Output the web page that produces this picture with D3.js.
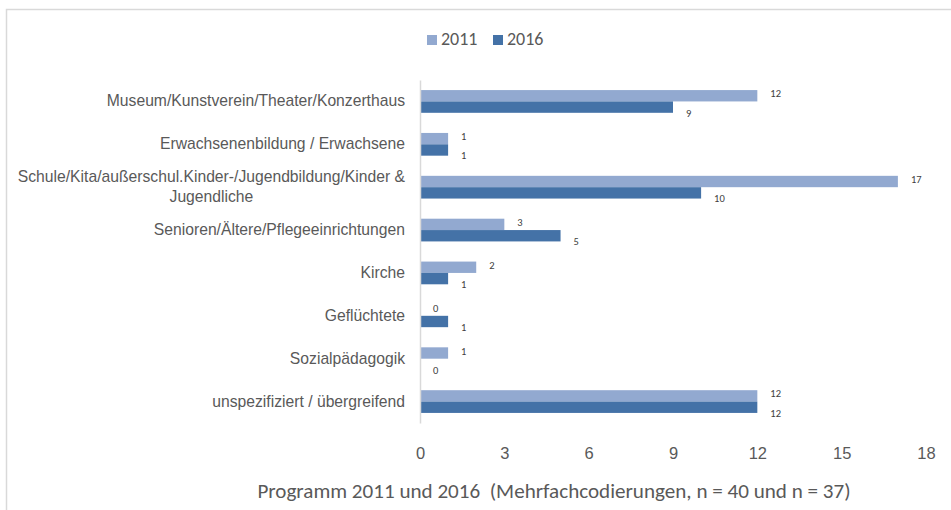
<!DOCTYPE html>
<html>
<head>
<meta charset="utf-8">
<script src="https://cdn.jsdelivr.net/npm/d3@7"></script>
<style>
  html, body { margin: 0; padding: 0; background: #fff; }
  svg { display: block; font-family: Carlito, Calibri, Lato, "Liberation Sans", sans-serif; }
</style>
</head>
<body>
<svg id="chart" width="951" height="510"></svg>
<script>
// Program categories and counts per year
const categories = [
  "Museum/Kunstverein/Theater/Konzerthaus",
  "Erwachsenenbildung / Erwachsene",
  "Schule/Kita/außerschul.Kinder-/Jugendbildung/Kinder & Jugendliche",
  "Senioren/Ältere/Pflegeeinrichtungen",
  "Kirche",
  "Geflüchtete",
  "Sozialpädagogik",
  "unspezifiziert / übergreifend"
];
const seriesNames = ["2011", "2016"];
const values2011 = [12, 1, 17, 3, 2, 0, 1, 12];
const values2016 = [9, 1, 10, 5, 1, 1, 0, 12];
const tickValues = [0, 3, 6, 9, 12, 15, 18];
const axisTitle = "Programm 2011 und 2016  (Mehrfachcodierungen, n = 40 und n = 37)";

const colors = { "2011": "#92a9d0", "2016": "#4472a7" };
const textColor = "#595959";

const svg = d3.select("#chart");

// outer frame
svg.append("rect")
  .attr("x", 6.5).attr("y", 9.5)
  .attr("width", 1000).attr("height", 600)
  .attr("fill", "#fff")
  .attr("stroke", "#d9d9d9")
  .attr("stroke-width", 1.5);

const x = d3.scaleLinear().domain([0, 18]).range([420, 926]);
const y = d3.scaleBand().domain(categories).range([80, 423])
  .paddingInner(0.47).paddingOuter(0.235);
const sub = d3.scaleBand().domain(seriesNames).range([0, y.bandwidth()]);

const rows = categories.map((c, i) => ({
  category: c,
  values: [
    { series: "2011", value: values2011[i] },
    { series: "2016", value: values2016[i] }
  ]
}));

// bars
const groups = svg.append("g").selectAll("g")
  .data(rows).join("g")
  .attr("transform", d => `translate(0,${y(d.category)})`);

groups.selectAll("rect")
  .data(d => d.values).join("rect")
  .attr("x", x(0))
  .attr("y", d => sub(d.series))
  .attr("width", d => x(d.value) - x(0))
  .attr("height", sub.bandwidth())
  .attr("fill", d => colors[d.series]);

// value labels
groups.selectAll("text")
  .data(d => d.values).join("text")
  .attr("x", d => x(d.value) + 13)
  .attr("y", d => sub(d.series) + sub.bandwidth() / 2 + (d.series === "2011" ? -1 : 7))
  .attr("dominant-baseline", "middle")
  .attr("font-size", 10.5)
  .attr("fill", "#404040")
  .text(d => d.value);

// category axis
const yAxis = svg.append("g")
  .attr("transform", `translate(${x(0)},0)`)
  .call(d3.axisLeft(y).tickSize(0).tickSizeOuter(0).tickPadding(15));
yAxis.select(".domain").attr("stroke", "#d9d9d9").attr("stroke-width", 1.5);
yAxis.selectAll(".tick text")
  .attr("font-size", 15.7)
  .attr("font-family", null)
  .attr("fill", textColor)
  .each(function () { wrap(d3.select(this), 395); });

function wrap(text, maxWidth) {
  const words = text.text().split(" ");
  text.text(null);
  const lines = [];
  let line = [];
  const probe = text.append("tspan");
  for (const w of words) {
    line.push(w);
    probe.text(line.join(" "));
    if (probe.node().getComputedTextLength() > maxWidth && line.length > 1) {
      line.pop();
      lines.push(line.join(" "));
      line = [w];
    }
  }
  lines.push(line.join(" "));
  probe.remove();
  if (lines.length === 1) { text.text(lines[0]); return; }
  // multi-line labels: lines centered within the right-aligned block
  const xRight = +text.attr("x");
  const tmp = text.append("tspan");
  let widest = 0;
  lines.forEach(l => { tmp.text(l); widest = Math.max(widest, tmp.node().getComputedTextLength()); });
  tmp.remove();
  const lh = 20;
  const cx = xRight - widest / 2;
  text.attr("text-anchor", "middle").attr("dy", null);
  lines.forEach((l, i) => {
    text.append("tspan")
      .attr("x", cx)
      .attr("dy", i === 0 ? (-(lines.length - 1) * lh / 2 + 5) + "px" : lh + "px")
      .text(l);
  });
}

// value axis
const xAxis = svg.append("g")
  .attr("transform", "translate(0,438)")
  .call(d3.axisBottom(x).tickValues(tickValues).tickSize(0).tickPadding(9));
xAxis.select(".domain").remove();
xAxis.selectAll(".tick text")
  .attr("font-size", 16.5)
  .attr("font-family", null)
  .attr("fill", textColor);

// axis title
svg.append("text")
  .attr("x", 554).attr("y", 498)
  .attr("text-anchor", "middle")
  .attr("font-size", 21.1)
  .attr("fill", textColor)
  .attr("xml:space", "preserve")
  .style("white-space", "pre")
  .text(axisTitle);

// legend
const legend = svg.append("g").attr("transform", "translate(427,35)");
const items = legend.selectAll("g").data(seriesNames).join("g")
  .attr("transform", (d, i) => `translate(${i * 66},0)`);
items.append("rect")
  .attr("width", 10).attr("height", 10)
  .attr("fill", d => colors[d]);
items.append("text")
  .attr("x", 14).attr("y", 6)
  .attr("dominant-baseline", "middle")
  .attr("font-size", 18)
  .attr("fill", textColor)
  .text(d => d);
</script>
</body>
</html>
